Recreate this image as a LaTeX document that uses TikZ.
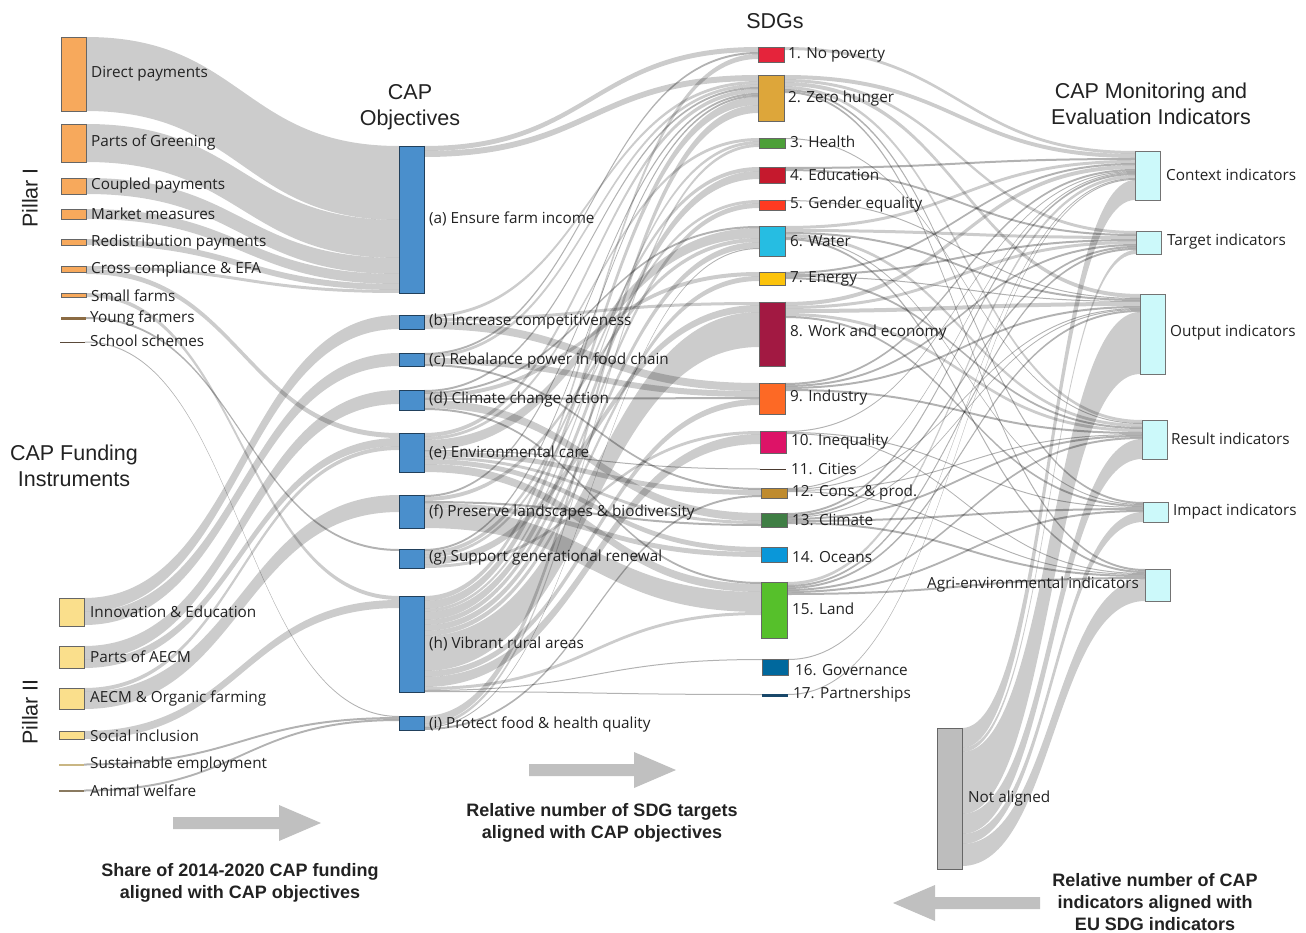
\documentclass[tikz,border=0pt]{standalone}
\usepackage{fontspec}
\setmainfont{Liberation Sans}
\newfontfamily\labf{Open Sans}
\usetikzlibrary{calc}
\pgfdeclarelayer{back}\pgfdeclarelayer{bg}\pgfsetlayers{back,bg,main}
\definecolor{txt}{HTML}{222222}
\definecolor{pIcol}{HTML}{F7A95C}
\definecolor{pIIcol}{HTML}{FADF8C}
\definecolor{yfcol}{HTML}{8B6B43}
\definecolor{sscol}{HTML}{5A4A3A}
\definecolor{secol}{HTML}{C9B683}
\definecolor{awcol}{HTML}{8A7A60}
\definecolor{objcol}{HTML}{4A8FCC}
\definecolor{indcol}{HTML}{CCF9FA}
\definecolor{nacol}{HTML}{BDBDBD}
\definecolor{arrcol}{HTML}{C0C0C0}
\definecolor{c1}{HTML}{E5243B}
\definecolor{c2}{HTML}{DDA63A}
\definecolor{c3}{HTML}{4C9F38}
\definecolor{c4}{HTML}{C5192D}
\definecolor{c5}{HTML}{FF3A21}
\definecolor{c6}{HTML}{26BDE2}
\definecolor{c7}{HTML}{FCC30B}
\definecolor{c8}{HTML}{A21942}
\definecolor{c9}{HTML}{FD6925}
\definecolor{c10}{HTML}{DD1367}
\definecolor{c11}{HTML}{4A3A30}
\definecolor{c12}{HTML}{BF8B2E}
\definecolor{c13}{HTML}{3F7E44}
\definecolor{c14}{HTML}{0A97D9}
\definecolor{c15}{HTML}{56C02B}
\definecolor{c16}{HTML}{00689D}
\definecolor{c17}{HTML}{19486A}
\tikzset{
  boxbase/.style={inner sep=0pt,outer sep=0pt,anchor=north west,minimum width=25pt},
  bordered/.style={boxbase,draw=black!60,line width=0.7pt},
  pI/.style={bordered,fill=pIcol},
  pII/.style={bordered,fill=pIIcol},
  obj/.style={bordered,fill=objcol,draw=black!55!objcol},
  sd/.style={bordered,minimum width=26pt},
  ind/.style={bordered,fill=indcol,draw=black!55},
  thinbar/.style={boxbase},
  lab/.style={anchor=west,font=\labf\fontsize{15.3}{18}\selectfont,text=txt,inner sep=0pt,yshift=-2pt},
  ttl/.style={font=\fontsize{21.5}{26}\selectfont,align=center,text=txt,inner sep=0pt},
  bld/.style={font=\bfseries\fontsize{18}{22}\selectfont,align=center,text=txt,inner sep=0pt},
  bigarr/.style={fill=arrcol}
}
\newcommand\nbox[5]{\node[#1,minimum height=#5pt] (#2) at (#3,#4) {};}
\newcommand\band[5]{%
  \pgfmathsetmacro\fop{#5<3 ? 0.3 : 0.2}%
  \fill[fill=black,fill opacity=\fop] let \p1=($(#1.north east)+(0,#2)$), \p2=($(#3.north west)+(0,#4)$), \n1={0.5*\x1+0.5*\x2} in
    (\x1,\y1) .. controls (\n1,\y1) and (\n1,\y2) .. (\x2,\y2)
    -- (\x2,{\y2-#5pt}) .. controls (\n1,{\y2-#5pt}) and (\n1,{\y1-#5pt}) .. (\x1,{\y1-#5pt}) -- cycle;}
\makeatletter
\newcommand\flow[3]{%
  \@ifundefined{fo@#1}{\expandafter\gdef\csname fo@#1\endcsname{0}}{}%
  \@ifundefined{fi@#2}{\expandafter\gdef\csname fi@#2\endcsname{0}}{}%
  \edef\fO{\csname fo@#1\endcsname}\edef\fI{\csname fi@#2\endcsname}%
  \band{#1}{\fO}{#2}{\fI}{#3}%
  \pgfmathsetmacro\fT{\fO+#3}\expandafter\xdef\csname fo@#1\endcsname{\fT}%
  \pgfmathsetmacro\fT{\fI+#3}\expandafter\xdef\csname fi@#2\endcsname{\fT}%
}
\makeatother
\begin{document}
\begin{tikzpicture}[x=1pt,y=-1pt]
\begin{pgfonlayer}{back}
\fill[white] (0,0) rectangle (1306,933);
\end{pgfonlayer}
\useasboundingbox (0,0) rectangle (1306,933);

% ---------- funding instruments
\nbox{pI}{f1}{61}{37}{74}
\nbox{pI}{f2}{61}{124}{38}
\nbox{pI}{f3}{61}{178}{16}
\nbox{pI}{f4}{61}{209}{10}
\nbox{pI}{f5}{61}{239}{6}
\nbox{pI}{f6}{61}{266}{6}
\nbox{pI}{f7}{61}{293}{4}
\nbox{thinbar,fill=yfcol}{f8}{61}{317}{2.5}
\nbox{thinbar,fill=sscol}{f9}{60}{341.5}{1.2}
\nbox{pII}{f10}{59}{598}{28}
\nbox{pII}{f11}{59}{646}{22}
\nbox{pII}{f12}{59}{688}{21}
\nbox{pII}{f13}{59}{731}{8}
\nbox{thinbar,fill=secol}{f14}{59}{763.5}{2.5}
\nbox{thinbar,fill=awcol}{f15}{59}{789.5}{2.5}

\node[lab] (l1) at (91,72) {Direct payments};
\node[lab] (l2) at (91,140) {Parts of Greening};
\node[lab] (l3) at (91,184) {Coupled payments};
\node[lab] (l4) at (91,212) {Market measures};
\node[lab] (l5) at (91,241) {Redistribution payments};
\node[lab] (l6) at (91,268) {Cross compliance \& EFA};
\node[lab] (l7) at (91,294) {Small farms};
\node[lab] (l8) at (90,316) {Young farmers};
\node[lab] (l9) at (90,339) {School schemes};
\node[lab] (l10) at (90,610) {Innovation \& Education};
\node[lab] (l11) at (90,655) {Parts of AECM};
\node[lab] (l12) at (90,696) {AECM \& Organic farming};
\node[lab] (l13) at (90,734) {Social inclusion};
\node[lab] (l14) at (90,763) {Sustainable employment};
\node[lab] (l15) at (90,789) {Animal welfare};

\node[ttl,rotate=90] (pil1) at (30,198) {Pillar I};
\node[ttl,rotate=90] (pil2) at (30,712) {Pillar II};
\node[ttl] (tfund) at (74,466) {CAP Funding\\Instruments};
\node[ttl] (tobj) at (410,107) {CAP\\Objectives};
\node[ttl] (tsdg) at (775,21) {SDGs};
\node[ttl] (tind) at (1151,104) {CAP Monitoring and\\Evaluation Indicators};

% ---------- objectives
\nbox{obj}{oa}{399}{146}{147}
\nbox{obj}{ob}{399}{315}{14}
\nbox{obj}{oc}{399}{353}{13}
\nbox{obj}{od}{399}{390}{20}
\nbox{obj}{oe}{399}{433}{39}
\nbox{obj}{of}{399}{495}{33}
\nbox{obj}{og}{399}{549}{19}
\nbox{obj}{oh}{399}{596}{96}
\nbox{obj}{oi}{399}{716}{14}

\node[lab] (la) at (429,217) {(a) Ensure farm income};
\node[lab] (lb) at (429,320) {(b) Increase competitiveness};
\node[lab] (lc) at (429,358) {(c) Rebalance power in food chain};
\node[lab] (ld) at (429,398) {(d) Climate change action};
\node[lab] (le) at (429,451) {(e) Environmental care};
\node[lab] (lf) at (429,510) {(f) Preserve landscapes \& biodiversity};
\node[lab] (lg) at (429,556) {(g) Support generational renewal};
\node[lab] (lh) at (429,642) {(h) Vibrant rural areas};
\node[lab] (li) at (429,722) {(i) Protect food \& health quality};

% ---------- SDGs
\nbox{sd,fill=c1}{s1}{758}{47}{15}
\nbox{sd,fill=c2}{s2}{758}{75}{46}
\nbox{sd,fill=c3}{s3}{759}{138}{10}
\nbox{sd,fill=c4}{s4}{759}{167}{16}
\nbox{sd,fill=c5}{s5}{759}{200}{10}
\nbox{sd,fill=c6}{s6}{759}{226}{30}
\nbox{sd,fill=c7}{s7}{759}{272}{13}
\nbox{sd,fill=c8}{s8}{759}{302}{64}
\nbox{sd,fill=c9}{s9}{759}{383}{31}
\nbox{sd,fill=c10}{s10}{760}{431}{22}
\nbox{thinbar,minimum width=26pt,fill=c11}{s11}{760}{468.5}{1.3}
\nbox{sd,fill=c12}{s12}{761}{488}{10}
\nbox{sd,fill=c13}{s13}{761}{513}{14}
\nbox{sd,fill=c14}{s14}{761}{547}{15}
\nbox{sd,fill=c15}{s15}{761}{582}{56}
\nbox{sd,fill=c16}{s16}{762}{659}{16}
\nbox{thinbar,minimum width=26pt,fill=c17}{s17}{762}{694}{2.5}

\node[lab] (ls1) at (788,53) {1. No poverty};
\node[lab] (ls2) at (788,97) {2. Zero hunger};
\node[lab] (ls3) at (790,140) {3. Health};
\node[lab] (ls4) at (790,173) {4. Education};
\node[lab] (ls5) at (790,203) {5. Gender equality};
\node[lab] (ls6) at (790,239) {6. Water};
\node[lab] (ls7) at (790,277) {7. Energy};
\node[lab] (ls8) at (790,331) {8. Work and economy};
\node[lab] (ls9) at (790,396) {9. Industry};
\node[lab] (ls10) at (791,440) {10. Inequality};
\node[lab] (ls11) at (791,467) {11. Cities};
\node[lab] (ls12) at (792,491) {12. Cons. \& prod.};
\node[lab] (ls13) at (792,518) {13. Climate};
\node[lab] (ls14) at (792,555) {14. Oceans};
\node[lab] (ls15) at (792,607) {15. Land};
\node[lab] (ls16) at (795,668) {16. Governance};
\node[lab] (ls17) at (793,693) {17. Partnerships};

% ---------- indicators
\nbox{ind}{ictx}{1135}{151}{49}
\nbox{ind}{itgt}{1136}{231}{23}
\nbox{ind}{iout}{1140}{294}{80}
\nbox{ind}{ires}{1142}{420}{39}
\nbox{ind}{iimp}{1143}{502}{20}
\nbox{ind}{iagr}{1145}{569}{32}
\nbox{bordered,fill=nacol,draw=black!60}{ina}{937}{728}{141}

\node[lab] (lctx) at (1166,173) {Context indicators};
\node[lab] (ltgt) at (1167,240) {Target indicators};
\node[lab] (lout) at (1170,331) {Output indicators};
\node[lab] (lres) at (1171,437) {Result indicators};
\node[lab] (limp) at (1173,510) {Impact indicators};
\node[lab,anchor=east] (lagr) at (1139,583) {Agri-environmental indicators};
\node[lab] (lna) at (968,797) {Not aligned};

% ---------- arrows and notes
\coordinate (ar1) at (173,823);
\coordinate (ar2) at (529,770);
\coordinate (ar3) at (1040,903);
\fill[bigarr] (ar1) ++(0,-6) -- ++(106,0) -- ++(0,-12) -- ++(42,18) -- ++(-42,18) -- ++(0,-12) -- ++(-106,0) -- cycle;
\fill[bigarr] (ar2) ++(0,-6) -- ++(105,0) -- ++(0,-12) -- ++(42,18) -- ++(-42,18) -- ++(0,-12) -- ++(-105,0) -- cycle;
\fill[bigarr] (ar3) ++(0,-6) -- ++(-105,0) -- ++(0,-12) -- ++(-42,18) -- ++(42,18) -- ++(0,-12) -- ++(105,0) -- cycle;
\node[bld] (n1) at (240,883) {Share of 2014-2020 CAP funding\\aligned with CAP objectives};
\node[bld] (n2) at (602,823) {Relative number of SDG targets\\aligned with CAP objectives};
\node[bld] (n3) at (1155,902) {Relative number of CAP\\indicators aligned with\\EU SDG indicators};

% ---------- flows
\begin{pgfonlayer}{bg}
% funding -> objectives
\flow{f1}{oa}{74}
\flow{f2}{oa}{38}
\flow{f3}{oa}{16}
\flow{f4}{oa}{10}
\flow{f5}{oa}{6}
\flow{f6}{oa}{3}
\flow{f6}{oe}{5}
\flow{f7}{oh}{4}
\flow{f8}{og}{2}
\flow{f9}{oi}{1}
\flow{f10}{ob}{14}
\flow{f10}{oc}{13}
\flow{f11}{od}{14}
\flow{f11}{oe}{8}
\flow{f12}{oe}{4}
\flow{f12}{of}{17}
\flow{f13}{oh}{8}
\flow{f14}{oi}{2}
\flow{f15}{oi}{2}
% objectives -> SDGs
\flow{oa}{s1}{5}
\flow{oa}{s2}{6}
\flow{ob}{s2}{3}
\flow{ob}{s8}{3}
\flow{ob}{s9}{8}
\flow{oc}{s1}{2}
\flow{oc}{s2}{3}
\flow{oc}{s9}{6}
\flow{oc}{s12}{2}
\flow{od}{s2}{2}
\flow{od}{s6}{2}
\flow{od}{s7}{4}
\flow{od}{s9}{2}
\flow{od}{s13}{8}
\flow{od}{s15}{2}
\flow{oe}{s2}{4}
\flow{oe}{s3}{3}
\flow{oe}{s6}{10}
\flow{oe}{s11}{1}
\flow{oe}{s12}{5}
\flow{oe}{s13}{3}
\flow{oe}{s14}{5}
\flow{oe}{s15}{8}
\flow{of}{s2}{2}
\flow{of}{s6}{4}
\flow{of}{s13}{2}
\flow{of}{s14}{5}
\flow{of}{s15}{20}
\flow{og}{s2}{2}
\flow{og}{s4}{4}
\flow{og}{s5}{3}
\flow{og}{s8}{7}
\flow{og}{s10}{3}
\flow{oh}{s1}{5}
\flow{oh}{s2}{8}
\flow{oh}{s3}{3}
\flow{oh}{s4}{8}
\flow{oh}{s5}{5}
\flow{oh}{s6}{6}
\flow{oh}{s7}{5}
\flow{oh}{s8}{35}
\flow{oh}{s9}{6}
\flow{oh}{s10}{10}
\flow{oh}{s15}{3}
\flow{oh}{s16}{1}
\flow{oh}{s17}{1}
\flow{oi}{s2}{8}
\flow{oi}{s3}{3}
\flow{oi}{s6}{1}
\flow{oi}{s12}{2}
% SDGs -> indicators
\flow{s1}{ictx}{3}
\flow{s2}{ictx}{4}
\flow{s2}{itgt}{3}
\flow{s2}{iout}{4}
\flow{s2}{ires}{3}
\flow{s2}{iimp}{2}
\flow{s2}{iagr}{2}
\flow{s3}{ires}{1}
\flow{s4}{ictx}{2}
\flow{s4}{itgt}{2}
\flow{s5}{iout}{1}
\flow{s6}{ictx}{3}
\flow{s6}{itgt}{3}
\flow{s6}{iout}{2}
\flow{s6}{ires}{3}
\flow{s6}{iimp}{1}
\flow{s6}{iagr}{2}
\flow{s7}{ictx}{2}
\flow{s7}{itgt}{2}
\flow{s7}{iout}{1}
\flow{s7}{ires}{2}
\flow{s8}{ictx}{4}
\flow{s8}{itgt}{3}
\flow{s8}{iout}{4}
\flow{s8}{ires}{3}
\flow{s8}{iimp}{2}
\flow{s9}{ictx}{2}
\flow{s9}{itgt}{2}
\flow{s9}{iout}{2}
\flow{s9}{ires}{2}
\flow{s10}{ictx}{1}
\flow{s10}{iimp}{1}
\flow{s10}{iagr}{1}
\flow{s12}{ictx}{1}
\flow{s12}{iout}{1}
\flow{s12}{ires}{1}
\flow{s12}{iagr}{1}
\flow{s13}{ictx}{2}
\flow{s13}{itgt}{2}
\flow{s13}{iout}{1}
\flow{s13}{ires}{2}
\flow{s13}{iimp}{2}
\flow{s13}{iagr}{2}
\flow{s15}{ictx}{3}
\flow{s15}{itgt}{2}
\flow{s15}{iout}{2}
\flow{s15}{ires}{2}
\flow{s15}{iimp}{2}
\flow{s15}{iagr}{2}
\flow{s16}{ictx}{1}
\flow{s17}{ictx}{1}
\flow{ina}{ictx}{20}
\flow{ina}{itgt}{4}
\flow{ina}{iout}{62}
\flow{ina}{ires}{20}
\flow{ina}{iimp}{10}
\flow{ina}{iagr}{22}
\end{pgfonlayer}
\end{tikzpicture}
\end{document}
